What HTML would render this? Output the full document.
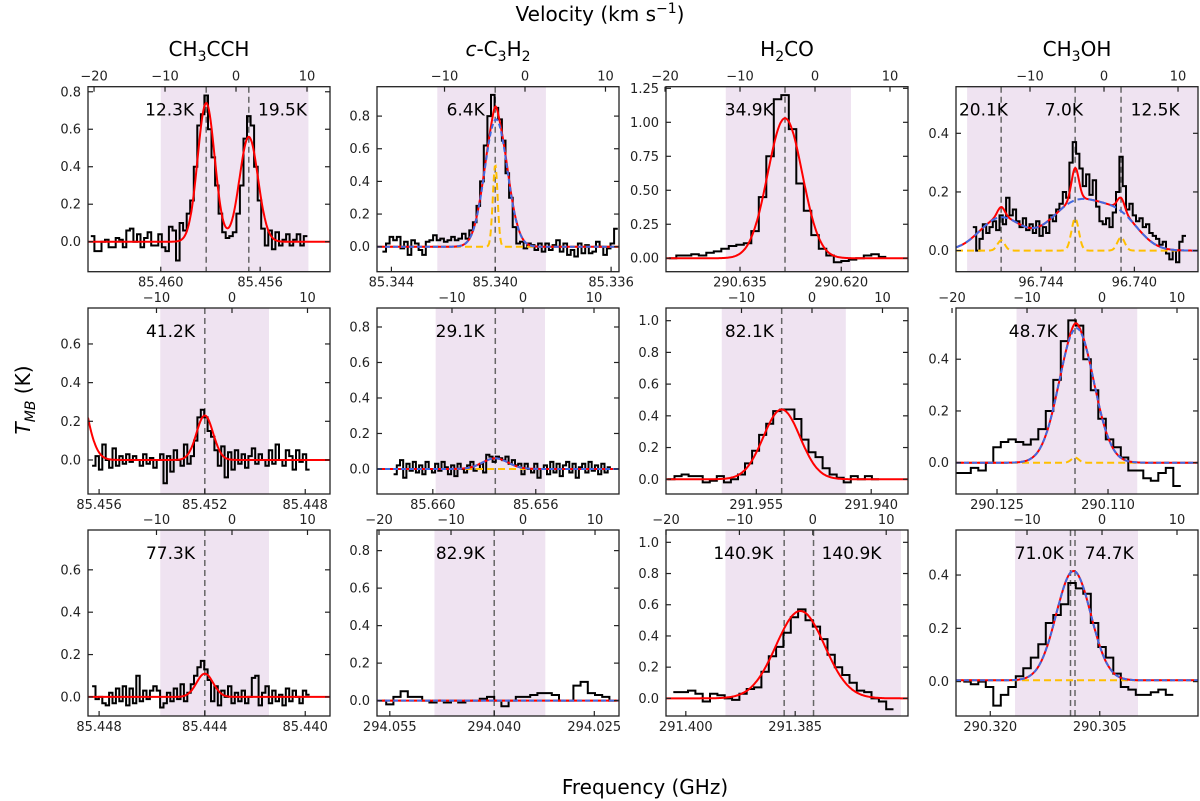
<!DOCTYPE html>
<html><head><meta charset="utf-8">
<style>
html,body{margin:0;padding:0;background:#fff;}
svg{display:block;font-family:"DejaVu Sans","Liberation Sans",sans-serif;}
</style></head>
<body>
<svg id="chart" width="1200" height="801" viewBox="0 0 1200 801" xmlns="http://www.w3.org/2000/svg">
<rect x="0" y="0" width="1200" height="801" fill="#fff"/>
<text x="600" y="21" font-size="20" text-anchor="middle">Velocity (km s<tspan dy="-8" font-size="14">−1</tspan><tspan dy="8">)</tspan></text>
<text x="645" y="794" font-size="20" text-anchor="middle">Frequency (GHz)</text>
<text transform="translate(30,400) rotate(-90)" font-size="20" text-anchor="middle"><tspan font-style="italic">T</tspan><tspan font-style="italic" font-size="14" dy="5">MB</tspan><tspan dy="-5"> (K)</tspan></text>
<text x="209" y="56" font-size="20" text-anchor="middle">CH<tspan font-size="14" dy="5">3</tspan><tspan dy="-5">CCH</tspan></text>
<text x="498" y="56" font-size="20" text-anchor="middle"><tspan font-style="italic">c</tspan>-C<tspan font-size="14" dy="5">3</tspan><tspan dy="-5">H</tspan><tspan font-size="14" dy="5">2</tspan></text>
<text x="787" y="56" font-size="20" text-anchor="middle">H<tspan font-size="14" dy="5">2</tspan><tspan dy="-5">CO</tspan></text>
<text x="1077" y="56" font-size="20" text-anchor="middle">CH<tspan font-size="14" dy="5">3</tspan><tspan dy="-5">OH</tspan></text>
</svg>
<script>
// ---- spectra data: [start velocity, channel width] and values ----
const spec_r1c1_start = [-20.2, 0.5];
const spec_r1c1 = [0.03,-0.05,-0.05,0.0,0.01,-0.03,-0.03,0.02,0.01,-0.03,0.06,0.07,0.0,0.04,-0.03,0.02,0.05,-0.02,-0.02,0.04,-0.03,-0.05,0.08,0.06,-0.10,0.10,0.06,0.15,0.22,0.40,0.62,0.68,0.78,0.60,0.45,0.30,0.15,0.05,0.02,0.03,0.05,0.15,0.30,0.55,0.67,0.62,0.40,0.22,0.07,-0.02,0.06,-0.04,0.05,-0.02,0.01,0.04,-0.02,0.01,0.04,-0.02,0.03];
const spec_r2c1_start = [-18.3, 0.45];
const spec_r2c1 = [-0.03,0.02,-0.05,0.08,0.0,-0.04,0.06,-0.03,0.02,-0.02,0.03,-0.01,0.02,0.0,-0.03,0.03,-0.02,0.01,-0.04,0.0,0.03,-0.12,0.02,-0.06,0.05,0.0,-0.03,0.08,-0.02,0.02,0.10,0.22,0.26,0.22,0.15,0.12,0.05,-0.03,0.07,-0.09,0.04,-0.05,0.05,-0.02,0.03,-0.04,0.02,0.06,-0.02,0.03,0.0,-0.03,0.05,-0.02,0.08,0.0,-0.03,0.05,0.02,-0.05,0.05,-0.01,0.03,-0.05];
const spec_r3c1_start = [-18.3, 0.45];
const spec_r3c1 = [0.05,-0.01,0.0,-0.03,-0.04,0.02,-0.03,0.04,-0.02,0.05,-0.04,0.04,-0.03,0.10,-0.02,0.03,-0.01,0.03,0.05,0.03,-0.05,-0.03,0.02,-0.02,0.04,-0.01,0.06,-0.02,0.02,0.06,0.10,0.14,0.17,0.13,0.08,-0.02,0.05,-0.04,0.03,0.0,0.05,-0.03,0.02,-0.02,0.03,-0.03,0.00,0.09,0.10,-0.04,0.02,0.05,-0.03,0.03,-0.02,0.01,-0.04,0.04,-0.02,0.03,0.0,-0.03,0.03,0.01];
const spec_r1c2_start = [-17.5, 0.45];
const spec_r1c2 = [-0.03,0.02,0.06,0.04,0.06,-0.01,0.03,-0.05,0.04,0.02,-0.02,-0.05,0.03,0.04,0.07,0.04,0.05,0.03,0.04,0.06,0.04,0.05,0.08,0.05,0.10,0.15,0.25,0.40,0.62,0.80,0.93,0.85,0.78,0.65,0.45,0.30,0.12,0.02,0.03,-0.01,0.02,0.01,-0.02,0.02,-0.03,0.02,-0.02,0.01,0.04,-0.03,0.02,-0.05,-0.02,-0.06,0.02,-0.04,0.01,-0.04,-0.03,0.03,0.0,-0.05,-0.01,0.02,0.11];
const spec_r2c2_start = [-18.0, 0.45];
const spec_r2c2 = [-0.03,0.02,0.05,-0.05,0.03,-0.01,0.04,-0.02,0.02,-0.03,0.04,0.0,-0.02,0.03,-0.01,0.04,0.01,-0.03,0.02,-0.04,0.03,0.0,-0.02,0.02,0.04,-0.01,0.0,0.03,-0.02,0.08,0.07,0.04,0.07,0.06,0.05,0.07,0.03,0.05,0.02,0.03,-0.03,0.03,0.0,-0.02,0.03,-0.05,0.0,0.02,-0.03,0.04,-0.02,0.03,-0.04,0.02,0.04,-0.02,0.03,-0.05,0.01,0.03,-0.02,0.04,-0.01,0.02,-0.03,0.03,-0.02,0.01];
const spec_r3c2_start = [-19.5, 1.0];
const spec_r3c2 = [0.0,-0.02,0.02,0.05,0.02,0.02,0.0,-0.01,0.0,-0.01,0.0,-0.01,0.0,0.0,0.01,0.02,0.0,-0.03,0.0,0.02,0.02,0.03,0.04,0.04,0.03,0.0,0.0,0.08,0.10,0.04,0.03,0.02,0.0];
const spec_r1c3_start = [-19.0, 1.0];
const spec_r1c3 = [0.0,0.02,0.02,0.03,0.02,0.04,0.05,0.07,0.09,0.10,0.11,0.20,0.45,0.75,1.17,1.20,0.95,0.55,0.35,0.17,0.07,0.02,-0.03,-0.02,-0.01,0.0,0.02,0.03,0.01];
const spec_r2c3_start = [-20.0, 1.0];
const spec_r2c3 = [0.0,0.02,0.03,0.02,0.02,-0.02,-0.01,0.02,-0.02,0.0,0.03,0.10,0.18,0.28,0.35,0.43,0.44,0.44,0.38,0.25,0.17,0.14,0.07,0.03,0.01,-0.02,0.02,0.0,0.02,0.0];
const spec_r3c3_start = [-18.5, 1.0];
const spec_r3c3 = [0.04,0.04,0.05,0.03,-0.02,0.03,0.02,0.0,-0.01,0.03,0.06,0.07,0.17,0.27,0.33,0.42,0.52,0.57,0.50,0.46,0.38,0.28,0.20,0.15,0.10,0.05,0.04,0.0,-0.02,-0.07];
const spec_r1c4_start = [-17.5, 0.45];
const spec_r1c4 = [0.08,0.0,0.04,0.09,0.06,0.08,0.10,0.07,0.12,0.09,0.18,0.12,0.14,0.10,0.08,0.11,0.07,0.09,0.06,0.10,0.05,0.08,0.06,0.12,0.10,0.14,0.16,0.20,0.18,0.30,0.37,0.33,0.28,0.22,0.26,0.19,0.24,0.15,0.10,0.09,0.11,0.08,0.13,0.20,0.32,0.22,0.14,0.16,0.12,0.10,0.11,0.08,0.09,0.06,0.05,0.04,0.02,0.03,-0.01,-0.03,0.0,-0.04,0.03,0.05];
const spec_r2c4_start = [-19.0, 1.0];
const spec_r2c4 = [-0.04,-0.04,-0.02,-0.03,0.0,0.06,0.08,0.09,0.08,0.07,0.09,0.13,0.20,0.32,0.47,0.55,0.53,0.40,0.28,0.17,0.09,0.06,0.02,-0.03,-0.03,-0.06,-0.07,-0.04,-0.02,-0.09];
const spec_r3c4_start = [-18.0, 1.0];
const spec_r3c4 = [0.0,-0.01,0.0,-0.02,-0.09,-0.05,-0.02,0.02,0.05,0.09,0.14,0.22,0.25,0.29,0.37,0.35,0.33,0.22,0.13,0.09,0.03,-0.02,-0.03,-0.05,-0.05,-0.04,-0.03,-0.05];

// ---- fit components: [amplitude, centre velocity, sigma] ----
const red_r1c1 = [[0.74,-4.2,1.2],[0.56,1.8,1.3]];
const red_r2c1 = [[0.23,-3.6,1.1],[0.5,-21,1.5]];
const red_r3c1 = [[0.11,-3.6,1.1]];
const blue_r1c2 = [[0.78,-3.6,1.4]];
const yellow_r1c2 = [[0.5,-3.7,0.3]];
const red_r1c2 = [[0.80,-3.6,1.4],[0.06,-3.7,0.3]];
const blue_r2c2 = [[0.06,-3.9,1.8]];
const red_r2c2 = [[0.06,-3.9,1.8]];
const red_r1c3 = [[1.03,-4.0,2.3]];
const red_r2c3 = [[0.44,-4.3,2.6]];
const red_r3c3 = [[0.56,-1.7,3.3]];
const blue_r1c4 = [[0.11,-14,2.8],[0.17,-3.4,3.8],[0.08,2.5,2.5]];
const yellow_r1c4 = [[0.035,-13.9,0.5],[0.11,-3.9,0.5],[0.045,2.3,0.5]];
const blue_r2c4 = [[0.52,-3.4,2.3]];
const yellow_r2c4 = [[0.02,-3.6,0.5]];
const blue_r3c4 = [[0.41,-3.8,2.3]];

// ---- axis ticks / annotations ----
const yt_r1c1=[0,0.2,0.4,0.6,0.8], yt_r2c1=[0,0.2,0.4,0.6], yt_r3c1=[0,0.2,0.4,0.6];
const yt_r1c2=[0,0.2,0.4,0.6,0.8], yt_r2c2=[0,0.2,0.4,0.6,0.8], yt_r3c2=[0,0.2,0.4,0.6,0.8];
const yt_r1c3=[0,0.25,0.5,0.75,1.0,1.25], yt_r2c3=[0,0.2,0.4,0.6,0.8,1.0], yt_r3c3=[0,0.2,0.4,0.6,0.8,1.0];
const yt_r1c4=[0,0.2,0.4], yt_r2c4=[0,0.2,0.4], yt_r3c4=[0,0.2,0.4];
const vt_r1c1=[-20,-10,0,10], vt_r1c2=[-10,0,10], vt_r1c3=[-20,-10,0,10], vt_r1c4=[-10,0,10];
const vt_r2c1=[-10,0,10], vt_r2c2=[-10,0,10], vt_r2c3=[-10,0,10], vt_r2c4=[-20,-10,0,10];
const vt_r3c1=[-10,0,10], vt_r3c2=[-20,-10,0,10], vt_r3c3=[-20,-10,0,10], vt_r3c4=[-10,0,10];
const fl_r1c1=['85.460','85.456'], fv_r1c1=[-10.6,3.4];
const fl_r2c1=['85.456','85.452','85.448'], fv_r2c1=[-17.6,-3.6,9.7];
const fl_r3c1=['85.448','85.444','85.440'], fv_r3c1=[-17.6,-3.6,9.7];
const fl_r1c2=['85.344','85.340','85.336'], fv_r1c2=[-16.6,-3.7,10.7];
const fl_r2c2=['85.660','85.656'], fv_r2c2=[-12.7,1.8];
const fl_r3c2=['294.055','294.040','294.025'], fv_r3c2=[-18.5,-4.0,9.9];
const fl_r1c3=['290.635','290.620'], fv_r1c3=[-10,3.5];
const fl_r2c3=['291.955','291.940'], fv_r2c3=[-7.9,8.4];
const fl_r3c3=['291.400','291.385'], fv_r3c3=[-17.3,-2.4];
const fl_r1c4=['96.744','96.740'], fv_r1c4=[-8.5,4.1];
const fl_r2c4=['290.125','290.110'], fv_r2c4=[-14,0.8];
const fl_r3c4=['290.320','290.305'], fv_r3c4=[-14.9,-0.3];
const shade_r1c1=[-10.6,10.2], shade_r2c1=[-9.5,4.9], shade_r3c1=[-9.5,4.9];
const shade_r1c2=[-10.9,2.6], shade_r2c2=[-12.3,3.1], shade_r3c2=[-12.3,3.1];
const shade_r1c3=[-11.9,4.8], shade_r2c3=[-12.8,4.8], shade_r3c3=[-11.9,12.0];
const shade_r1c4=[-18.5,13], shade_r2c4=[-11.4,4.7], shade_r3c4=[-11.6,4.8];
const dash_r1c1=[-4.2,1.8], dash_r2c1=[-3.6], dash_r3c1=[-3.6];
const dash_r1c2=[-3.7], dash_r2c2=[-3.9], dash_r3c2=[-4.0];
const dash_r1c3=[-4.0], dash_r2c3=[-4.3], dash_r3c3=[-3.9,0.1];
const dash_r1c4=[-13.9,-3.9,2.3], dash_r2c4=[-3.6], dash_r3c4=[-4.2,-3.6];
const lab_r1c1=['12.3K','19.5K'], labv_r1c1=[-5.9,3.1], laba_r1c1=['end','start'];
const lab_r2c1=['41.2K'], labv_r2c1=[-4.9], laba_r2c1=['end'];
const lab_r3c1=['77.3K'], labv_r3c1=[-4.9], laba_r3c1=['end'];
const lab_r1c2=['6.4K'], labv_r1c2=[-5.0], laba_r1c2=['end'];
const lab_r2c2=['29.1K'], labv_r2c2=[-5.4], laba_r2c2=['end'];
const lab_r3c2=['82.9K'], labv_r3c2=[-5.3], laba_r3c2=['end'];
const lab_r1c3=['34.9K'], labv_r1c3=[-5.5], laba_r1c3=['end'];
const lab_r2c3=['82.1K'], labv_r2c3=[-5.4], laba_r2c3=['end'];
const lab_r3c3=['140.9K','140.9K'], labv_r3c3=[-5.4,1.2], laba_r3c3=['end','start'];
const lab_r1c4=['20.1K','7.0K','12.5K'], labv_r1c4=[-19.6,-8.0,3.6], laba_r1c4=['start','start','start'];
const lab_r2c4=['48.7K'], labv_r2c4=[-5.9], laba_r2c4=['end'];
const lab_r3c4=['71.0K','74.7K'], labv_r3c4=[-5.1,-2.3], laba_r3c4=['end','start'];

// ---- layout (axes geometry) ----
const colX=[88,377,666,956], axW=242;
const rowY=[86.7,308,530], axH=[185,186,186];
const panels=[
 {id:'r1c1',r:0,c:0,vmin:-20.85,vmax:13.24,ymin:-0.16,ymax:0.827,dec:1,spec:spec_r1c1,st:spec_r1c1_start,red:red_r1c1,yt:yt_r1c1,vt:vt_r1c1,fl:fl_r1c1,fv:fv_r1c1,sh:shade_r1c1,da:dash_r1c1,lab:lab_r1c1,labv:labv_r1c1,laba:laba_r1c1},
 {id:'r2c1',r:1,c:0,vmin:-19.07,vmax:12.98,ymin:-0.176,ymax:0.786,dec:1,spec:spec_r2c1,st:spec_r2c1_start,red:red_r2c1,yt:yt_r2c1,vt:vt_r2c1,fl:fl_r2c1,fv:fv_r2c1,sh:shade_r2c1,da:dash_r2c1,lab:lab_r2c1,labv:labv_r2c1,laba:laba_r2c1},
 {id:'r3c1',r:2,c:0,vmin:-19.07,vmax:12.98,ymin:-0.09,ymax:0.788,dec:1,spec:spec_r3c1,st:spec_r3c1_start,red:red_r3c1,yt:yt_r3c1,vt:vt_r3c1,fl:fl_r3c1,fv:fv_r3c1,sh:shade_r3c1,da:dash_r3c1,lab:lab_r3c1,labv:labv_r3c1,laba:laba_r3c1},
 {id:'r1c2',r:0,c:1,vmin:-18.39,vmax:11.68,ymin:-0.153,ymax:0.98,dec:1,spec:spec_r1c2,st:spec_r1c2_start,red:red_r1c2,blue:blue_r1c2,yellow:yellow_r1c2,yt:yt_r1c2,vt:vt_r1c2,fl:fl_r1c2,fv:fv_r1c2,sh:shade_r1c2,da:dash_r1c2,lab:lab_r1c2,labv:labv_r1c2,laba:laba_r1c2},
 {id:'r2c2',r:1,c:1,vmin:-20.56,vmax:13.52,ymin:-0.141,ymax:0.907,dec:1,spec:spec_r2c2,st:spec_r2c2_start,red:red_r2c2,blue:blue_r2c2,yellow:[],yt:yt_r2c2,vt:vt_r2c2,fl:fl_r2c2,fv:fv_r2c2,sh:shade_r2c2,da:dash_r2c2,lab:lab_r2c2,labv:labv_r2c2,laba:laba_r2c2},
 {id:'r3c2',r:2,c:1,vmin:-20.28,vmax:13.33,ymin:-0.082,ymax:0.91,dec:1,spec:spec_r3c2,st:spec_r3c2_start,red:[],blue:[],yellow:[],yt:yt_r3c2,vt:vt_r3c2,fl:fl_r3c2,fv:fv_r3c2,sh:shade_r3c2,da:dash_r3c2,lab:lab_r3c2,labv:labv_r3c2,laba:laba_r3c2},
 {id:'r1c3',r:0,c:2,vmin:-19.87,vmax:12.4,ymin:-0.099,ymax:1.262,dec:2,spec:spec_r1c3,st:spec_r1c3_start,red:red_r1c3,yt:yt_r1c3,vt:vt_r1c3,fl:fl_r1c3,fv:fv_r1c3,sh:shade_r1c3,da:dash_r1c3,lab:lab_r1c3,labv:labv_r1c3,laba:laba_r1c3},
 {id:'r2c3',r:1,c:2,vmin:-20.71,vmax:13.62,ymin:-0.093,ymax:1.08,dec:1,spec:spec_r2c3,st:spec_r2c3_start,red:red_r2c3,yt:yt_r2c3,vt:vt_r2c3,fl:fl_r2c3,fv:fv_r2c3,sh:shade_r2c3,da:dash_r2c3,lab:lab_r2c3,labv:labv_r2c3,laba:laba_r2c3},
 {id:'r3c3',r:2,c:2,vmin:-20,vmax:12.97,ymin:-0.113,ymax:1.079,dec:1,spec:spec_r3c3,st:spec_r3c3_start,red:red_r3c3,yt:yt_r3c3,vt:vt_r3c3,fl:fl_r3c3,fv:fv_r3c3,sh:shade_r3c3,da:dash_r3c3,lab:lab_r3c3,labv:labv_r3c3,laba:laba_r3c3},
 {id:'r1c4',r:0,c:3,vmin:-20,vmax:12.7,ymin:-0.072,ymax:0.559,dec:1,spec:spec_r1c4,st:spec_r1c4_start,blue:blue_r1c4,yellow:yellow_r1c4,redsum:true,yt:yt_r1c4,vt:vt_r1c4,fl:fl_r1c4,fv:fv_r1c4,sh:shade_r1c4,da:dash_r1c4,lab:lab_r1c4,labv:labv_r1c4,laba:laba_r1c4,redSolid:true},
 {id:'r2c4',r:1,c:3,vmin:-19.47,vmax:12.8,ymin:-0.121,ymax:0.598,dec:1,spec:spec_r2c4,st:spec_r2c4_start,blue:blue_r2c4,yellow:yellow_r2c4,redsum:true,yt:yt_r2c4,vt:vt_r2c4,fl:fl_r2c4,fv:fv_r2c4,sh:shade_r2c4,da:dash_r2c4,lab:lab_r2c4,labv:labv_r2c4,laba:laba_r2c4},
 {id:'r3c4',r:2,c:3,vmin:-19.47,vmax:12.8,ymin:-0.129,ymax:0.569,dec:1,spec:spec_r3c4,st:spec_r3c4_start,blue:blue_r3c4,yellow:[],yoff:0.005,redsum:true,yt:yt_r3c4,vt:vt_r3c4,fl:fl_r3c4,fv:fv_r3c4,sh:shade_r3c4,da:dash_r3c4,lab:lab_r3c4,labv:labv_r3c4,laba:laba_r3c4}
];

const NS='http://www.w3.org/2000/svg';
const svg=document.getElementById('chart');
function mk(tag,attrs,parent,name){
  const e=document.createElementNS(NS,tag);
  for(const k in attrs) e.setAttribute(k,attrs[k]);
  
  
  parent.appendChild(e);
  return e;
}
function gsum(comps,v){let s=0;for(const c of comps){s+=c[0]*Math.exp(-((v-c[1])**2)/(2*c[2]*c[2]));}return s;}

panels.forEach(p=>{
  const x0=colX[p.c], y0=rowY[p.r], h=axH[p.r];
  const X=v=>x0+(v-p.vmin)/(p.vmax-p.vmin)*axW;
  const Y=t=>y0+h-(t-p.ymin)/(p.ymax-p.ymin)*h;
  const g=mk('g',{},svg,'panel-'+p.id);
  const defs=mk('defs',{},g,'clip-defs');
  const cp=mk('clipPath',{id:'clip-'+p.id},defs,'clip-path');
  mk('rect',{x:x0,y:y0,width:axW,height:h},cp,'clip-rect');
  const pg=mk('g',{'clip-path':'url(#clip-'+p.id+')'},g,'plot-area');
  mk('rect',{x:X(p.sh[0]),y:y0,width:X(p.sh[1])-X(p.sh[0]),height:h,fill:'#efe3f1'},pg,'integration-window');
  p.da.forEach(v=>{mk('line',{x1:X(v),x2:X(v),y1:y0,y2:y0+h,stroke:'#666','stroke-width':1.5,'stroke-dasharray':'6,4'},pg,'velocity-marker');});
  let d='';
  const st=p.st[0], dv=p.st[1];
  p.spec.forEach((t,i)=>{const vc=st+i*dv;const a=X(vc-dv/2),b=X(vc+dv/2);d+=(i===0?'M':'L')+a.toFixed(1)+','+Y(t).toFixed(1)+'L'+b.toFixed(1)+','+Y(t).toFixed(1);});
  mk('path',{d:d,fill:'none',stroke:'#000','stroke-width':2},pg,'spectrum');
  const N=300;
  function curve(fn,attrs,name){let dd='';for(let i=0;i<=N;i++){const v=p.vmin+(p.vmax-p.vmin)*i/N;dd+=(i?'L':'M')+X(v).toFixed(1)+','+Y(fn(v)).toFixed(1);}mk('path',Object.assign({d:dd,fill:'none'},attrs),pg,name);}
  const off=p.yoff||0;
  if(p.yellow!==undefined){curve(v=>gsum(p.yellow,v)+off,{stroke:'#ffbf00','stroke-width':2,'stroke-dasharray':'7,4'},'narrow-component-fit');}
  if(p.redsum){
    const rf=v=>gsum(p.blue,v)+gsum(p.yellow,v)+off;
    if(p.redSolid){curve(rf,{stroke:'#ff0000','stroke-width':2},'total-fit');curve(v=>gsum(p.blue,v),{stroke:'#4169e1','stroke-width':2,'stroke-dasharray':'7,4'},'broad-component-fit');}
    else{curve(rf,{stroke:'#ff0000','stroke-width':2},'total-fit');curve(v=>gsum(p.blue,v)+off,{stroke:'#4169e1','stroke-width':2,'stroke-dasharray':'5,3'},'broad-component-fit');}
  } else if(p.blue!==undefined){
    curve(v=>gsum(p.red,v),{stroke:'#ff0000','stroke-width':2},'total-fit');
    curve(v=>gsum(p.blue,v),{stroke:'#4169e1','stroke-width':2,'stroke-dasharray':'5,3'},'broad-component-fit');
  } else {
    curve(v=>gsum(p.red,v),{stroke:'#ff0000','stroke-width':2},'gaussian-fit');
  }
  p.lab.forEach((t,i)=>{const e=mk('text',{x:X(p.labv[i]),y:y0+29,'font-size':17,'text-anchor':p.laba[i]},g,'excitation-temperature-label');e.textContent=t;});
  mk('rect',{x:x0,y:y0,width:axW,height:h,fill:'none',stroke:'#222','stroke-width':1.3},g,'axes-frame');
  p.yt.forEach(t=>{const yy=Y(t);
    mk('line',{x1:x0,x2:x0+5,y1:yy,y2:yy,stroke:'#222','stroke-width':1.2},g,'y-tick');
    mk('line',{x1:x0+axW-5,x2:x0+axW,y1:yy,y2:yy,stroke:'#222','stroke-width':1.2},g,'y-tick-right');
    const e=mk('text',{x:x0-7,y:yy+4.5,'font-size':13,'text-anchor':'end',fill:'#222'},g,'y-tick-label');e.textContent=t.toFixed(p.dec);});
  p.vt.forEach(v=>{const xx=X(v);
    mk('line',{x1:xx,x2:xx,y1:y0,y2:y0+5,stroke:'#222','stroke-width':1.2},g,'velocity-tick');
    const e=mk('text',{x:xx,y:y0-6,'font-size':13,'text-anchor':'middle',fill:'#222'},g,'velocity-tick-label');e.textContent=(v<0?'−'+Math.abs(v):String(v));});
  p.fv.forEach((v,i)=>{const xx=X(v);
    mk('line',{x1:xx,x2:xx,y1:y0+h-5,y2:y0+h,stroke:'#222','stroke-width':1.2},g,'frequency-tick');
    const e=mk('text',{x:xx,y:y0+h+15,'font-size':13,'text-anchor':'middle',fill:'#222'},g,'frequency-tick-label');e.textContent=p.fl[i];});
});
</script>
</body></html>
